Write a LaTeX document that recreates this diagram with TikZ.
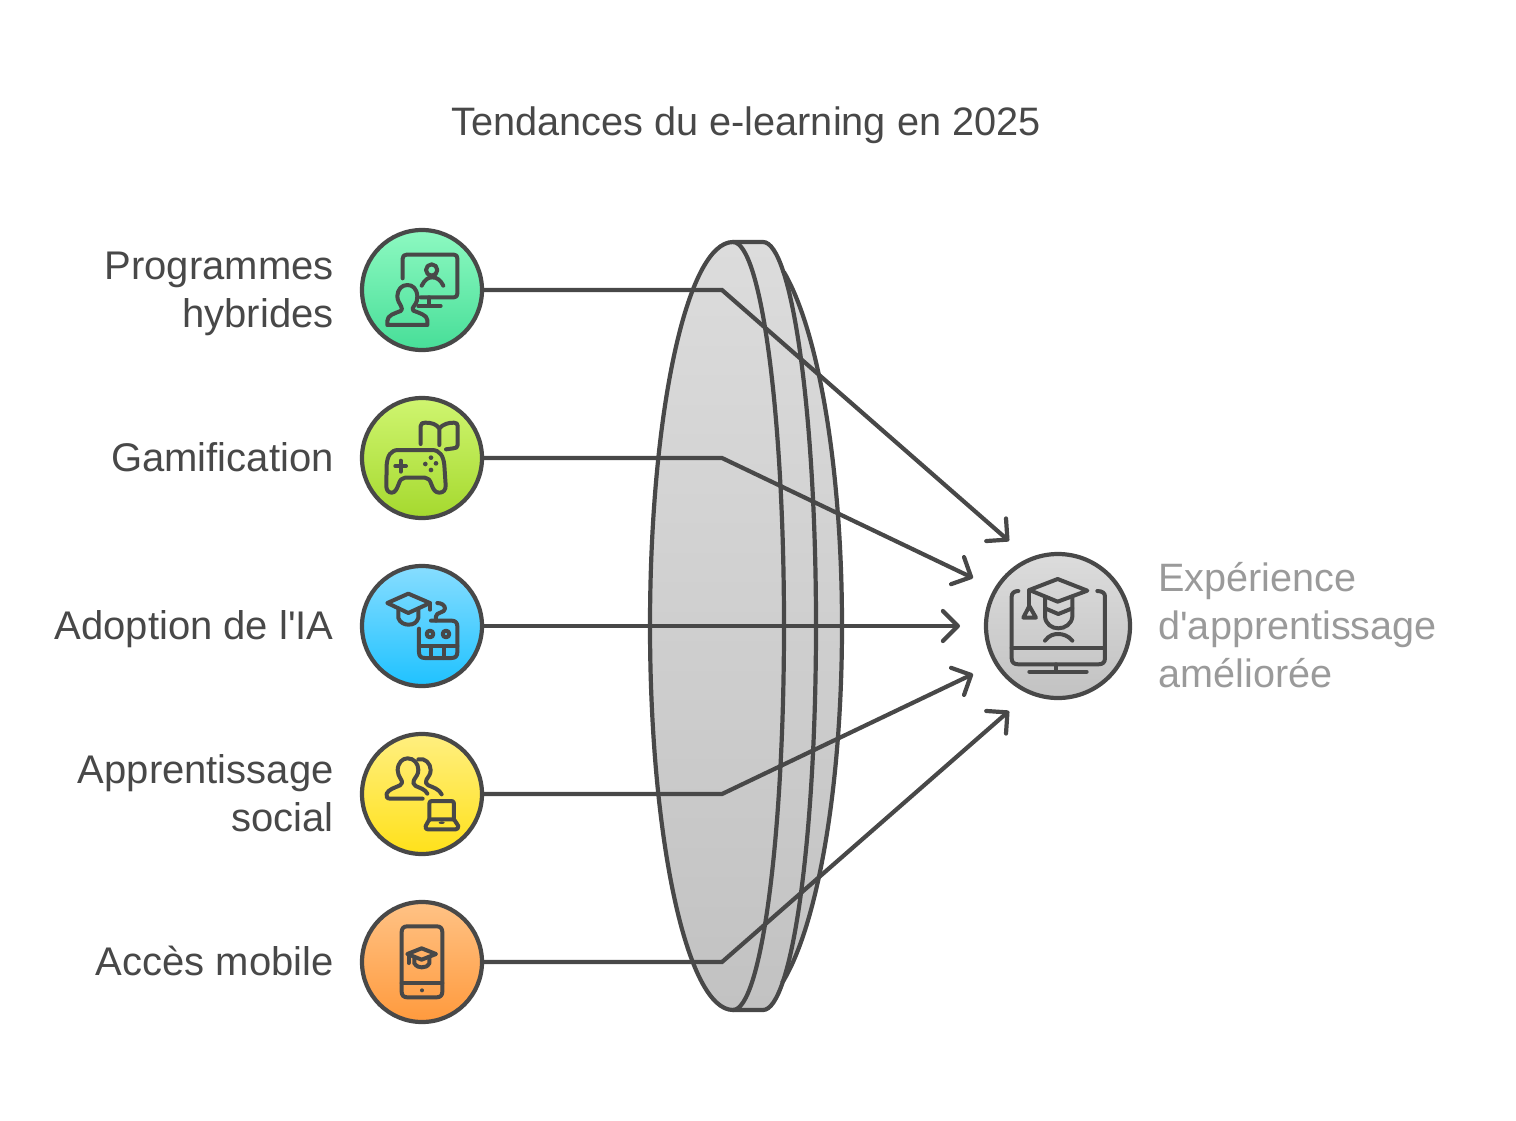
\documentclass[tikz,border=0pt]{standalone}
\usepackage{fontspec}
\newfontfamily\lf{Liberation Sans}
\usetikzlibrary{arrows.meta}
\definecolor{ink}{HTML}{484848}
\definecolor{mute}{HTML}{9A9A9A}
\definecolor{lenstop}{HTML}{DCDCDC}
\definecolor{lensbot}{HTML}{C2C2C2}
\definecolor{greent}{HTML}{8DF9C1}
\definecolor{greenb}{HTML}{47DE98}
\definecolor{limet}{HTML}{CFF570}
\definecolor{limeb}{HTML}{A5D92E}
\definecolor{bluet}{HTML}{87DDFF}
\definecolor{blueb}{HTML}{1FC2FF}
\definecolor{yelt}{HTML}{FFEF80}
\definecolor{yelb}{HTML}{FFE11A}
\definecolor{orat}{HTML}{FFC285}
\definecolor{orab}{HTML}{FF9A3D}
\tikzset{
  lab/.style={text=ink,font=\lf\fontsize{20}{24}\selectfont,inner sep=0pt,align=right,anchor=base east},
  labr/.style={text=mute,font=\lf\fontsize{19.8}{24}\selectfont,inner sep=0pt,align=left,anchor=base west},
  ttl/.style={text=ink,font=\lf\fontsize{19.85}{24}\selectfont,inner sep=0pt,anchor=base},
  disc/.style={circle,draw=ink,line width=2.1pt,minimum size=60pt,inner sep=0pt,outer sep=0pt},
  bigdisc/.style={circle,draw=ink,line width=2.1pt,minimum size=72pt,inner sep=0pt,outer sep=0pt},
  conn/.style={draw=ink,line width=2.1pt,line join=miter,-{Straight Barb[length=7.5pt,width=15pt,round]}},
  lensline/.style={draw=ink,line width=2.1pt,line cap=butt},
  lensfill/.style={top color=lenstop,bottom color=lensbot,draw=none},
  ic/.style={draw=ink,line width=2pt,line cap=round,line join=round},
  icdot/.style={fill=ink,draw=none},
}
\begin{document}
\begin{tikzpicture}[x=0.5pt,y=-0.5pt]
\useasboundingbox (0,0) rectangle (1516,1120);
\node[ttl] (title) at (746,135) {Tendances du e-learning en 2025};
% lens
\path[lensfill] (747,626) ellipse [x radius=95,y radius=384];
\path[lensfill] (763,626) ellipse [x radius=53,y radius=384];
\path[lensfill] (733,242) rectangle (763,1010);
\path[lensfill] (733,626) ellipse [x radius=83,y radius=384];
\begin{scope}
\clip (700,271) rectangle (900,981);
\draw[lensline] (747,242) .. controls (799.5,242) and (842,414) .. (842,626) .. controls (842,838) and (799.5,1010) .. (747,1010);
\end{scope}
\draw[lensline] (733,242) -- (763,242) .. controls (792,242) and (816,414) .. (816,626) .. controls (816,838) and (792,1010) .. (763,1010) -- (733,1010);
\draw[lensline] (733,242) .. controls (687,242) and (650,414) .. (650,626) .. controls (650,838) and (687,1010) .. (733,1010);
\draw[lensline] (733,242) .. controls (761,242) and (784,414) .. (784,626) .. controls (784,838) and (761,1010) .. (733,1010);
% discs
\node[disc,top color=greent,bottom color=greenb] (c1) at (422,290) {};
\node[disc,top color=limet,bottom color=limeb] (c2) at (422,458) {};
\node[disc,top color=bluet,bottom color=blueb] (c3) at (422,626) {};
\node[disc,top color=yelt,bottom color=yelb] (c4) at (422,794) {};
\node[disc,top color=orat,bottom color=orab] (c5) at (422,962) {};
\node[bigdisc,top color=lenstop,bottom color=lensbot] (out) at (1058,626) {};
% connectors
\coordinate (b1) at (722,290); \coordinate (t1) at (1009,541);
\coordinate (b2) at (722,458); \coordinate (t2) at (973,578);
\coordinate (t3) at (960,626);
\coordinate (b4) at (722,794); \coordinate (t4) at (973,674);
\coordinate (b5) at (722,962); \coordinate (t5) at (1009,711);
\draw[conn] (c1.east) -- (b1) -- (t1);
\draw[conn] (c2.east) -- (b2) -- (t2);
\draw[conn] (c3.east) -- (t3);
\draw[conn] (c4.east) -- (b4) -- (t4);
\draw[conn] (c5.east) -- (b5) -- (t5);
% labels
\node[lab] (l1) at (334,327) {Programmes\\hybrides};
\node[lab] (l2) at (334,471) {Gamification};
\node[lab] (l3) at (334,639) {Adoption de l'IA};
\node[lab] (l4) at (334,831) {Apprentissage\\social};
\node[lab] (l5) at (334,975) {Accès mobile};
\node[labr] (lo) at (1158,687) {Expérience\\d'apprentissage\\améliorée};
% icon 1
\begin{scope}[shift={(350,220)},scale=0.3333]
\draw[ic] (158,175) -- (158,116) .. controls (158,108) and (162,104) .. (170,104) -- (312,104) .. controls (319,104) and (322,108) .. (322,115) -- (322,221) .. controls (322,228) and (319,232) .. (312,232) -- (212,232);
\draw[ic] (238,232) -- (238,258) (205,258) -- (272,258);
\draw[ic] (245,150) circle [radius=17];
\draw[ic] (215,197) .. controls (225,178) and (235,172) .. (247,172) .. controls (260,172) and (272,180) .. (280,197);
\draw[ic] (112,315) -- (232,315) -- (232,300) .. controls (232,285) and (205,278) .. (190,272) .. controls (186,268) and (188,262) .. (192,258) .. controls (200,248) and (203,238) .. (202,228) .. controls (200,205) and (188,195) .. (172,195) .. controls (155,195) and (143,208) .. (142,228) .. controls (142,240) and (148,250) .. (153,258) .. controls (157,265) and (157,270) .. (152,273) .. controls (135,280) and (112,285) .. (112,303) -- cycle;
\end{scope}
% icon 2
\begin{scope}[shift={(350,390)},scale=0.3333]
\draw[ic] (212,162) -- (212,108) .. controls (212,100) and (218,98) .. (226,98) .. controls (245,98) and (258,102) .. (268,115) -- (268,165);
\draw[ic] (268,115) .. controls (280,102) and (295,98) .. (312,98) .. controls (320,98) and (323,102) .. (323,108) -- (323,165) .. controls (323,172) and (318,175) .. (310,175) -- (288,178);
\draw[ic] (145,180) -- (245,180) .. controls (270,180) and (280,198) .. (283,225) -- (287,285) .. controls (288,300) and (280,308) .. (268,308) .. controls (255,308) and (250,298) .. (245,285) .. controls (240,270) and (235,263) .. (225,263) -- (165,263) .. controls (155,263) and (150,270) .. (145,285) .. controls (140,298) and (135,308) .. (125,308) .. controls (115,308) and (108,300) .. (109,285) -- (110,225) .. controls (112,198) and (122,180) .. (145,180) -- cycle;
\draw[ic] (136,228) -- (168,228) (152,212) -- (152,245);
\fill[icdot] (243,203) circle [radius=7] (226,222) circle [radius=7] (258,220) circle [radius=7] (243,240) circle [radius=7];
\end{scope}
% icon 3
\begin{scope}[shift={(350,558)},scale=0.3333]
\draw[ic] (112,135) -- (175,107) -- (240,135) -- (175,165) -- cycle;
\draw[ic] (145,152) -- (145,180) .. controls (150,195) and (165,200) .. (175,200) .. controls (190,200) and (200,195) .. (205,180) -- (205,152);
\draw[ic] (240,135) -- (240,155);
\draw[ic] (262,135) .. controls (275,135) and (285,142) .. (285,152) .. controls (285,165) and (258,162) .. (258,175) -- (258,188);
\draw[ic] (243,188) -- (305,188) .. controls (316,188) and (322,194) .. (322,205) -- (322,283) .. controls (322,294) and (316,300) .. (305,300) -- (224,300) .. controls (213,300) and (207,294) .. (207,283) -- (207,212);
\draw[ic] (240,228) circle [radius=10] (288,228) circle [radius=10];
\draw[ic] (207,265) -- (322,265) (243,265) -- (243,300) (283,265) -- (283,300);
\end{scope}
% icon 4
\begin{scope}[shift={(350,726)},scale=0.3333]
\draw[ic] (218,218) -- (120,218) .. controls (110,218) and (108,210) .. (110,203) .. controls (115,190) and (135,185) .. (150,178) .. controls (157,174) and (158,168) .. (153,160) .. controls (147,150) and (143,143) .. (143,132) .. controls (144,110) and (157,97) .. (173,97) .. controls (192,97) and (205,112) .. (205,132) .. controls (205,145) and (198,152) .. (193,160) .. controls (188,170) and (190,175) .. (197,180) .. controls (210,186) and (226,190) .. (232,203);
\draw[ic] (205,100) .. controls (225,95) and (242,112) .. (242,132) .. controls (242,145) and (235,152) .. (230,160) .. controls (226,170) and (228,175) .. (235,178) .. controls (250,184) and (268,190) .. (275,205);
\draw[ic] (238,282) -- (238,233) .. controls (238,227) and (241,225) .. (246,225) -- (304,225) .. controls (309,225) and (312,227) .. (312,233) -- (312,282);
\draw[ic] (238,280) -- (312,280) -- (325,300) .. controls (325,307) and (322,310) .. (317,310) -- (233,310) .. controls (228,310) and (226,307) .. (227,300) -- cycle;
\fill[icdot] (275,290) ellipse [x radius=9,y radius=4];
\end{scope}
% icon 5
\begin{scope}[shift={(350,894)},scale=0.3333]
\draw[ic] (172,97) -- (260,97) .. controls (271,97) and (277,103) .. (277,114) -- (277,293) .. controls (277,304) and (271,310) .. (260,310) -- (172,310) .. controls (161,310) and (155,304) .. (155,293) -- (155,114) .. controls (155,103) and (161,97) .. (172,97) -- cycle;
\draw[ic] (155,268) -- (277,268);
\fill[icdot] (216,289) circle [radius=6];
\draw[ic] (172,180) -- (215,163) -- (258,180) -- (215,197) -- cycle;
\draw[ic] (193,190) -- (193,208) .. controls (200,218) and (208,220) .. (215,220) .. controls (225,220) and (232,218) .. (238,208) -- (238,190);
\draw[ic] (176,182) -- (176,207);
\end{scope}
% icon 6
\begin{scope}[shift={(950,520)},scale=0.3333]
\draw[ic] (238,210) -- (323,177) -- (412,212) -- (323,245) -- cycle;
\draw[ic] (238,210) -- (238,260);
\draw[ic] (238,258) -- (220,293) -- (258,293) -- cycle;
\draw[ic] (285,232) -- (285,290) .. controls (287,312) and (305,325) .. (325,325) .. controls (345,325) and (365,312) .. (367,290) -- (367,232);
\draw[ic] (285,265) -- (325,282) -- (367,265);
\draw[ic] (285,362) .. controls (298,345) and (312,342) .. (325,342) .. controls (338,342) and (355,347) .. (367,362);
\draw[ic] (205,213) .. controls (192,213) and (185,220) .. (185,230) -- (185,415) .. controls (185,427) and (192,433) .. (205,433) -- (445,433) .. controls (458,433) and (465,427) .. (465,415) -- (465,230) .. controls (465,220) and (458,213) .. (442,213);
\draw[ic] (185,383) -- (465,383);
\draw[ic] (318,433) -- (318,455) (238,455) -- (410,455);
\end{scope}
\end{tikzpicture}
\end{document}
